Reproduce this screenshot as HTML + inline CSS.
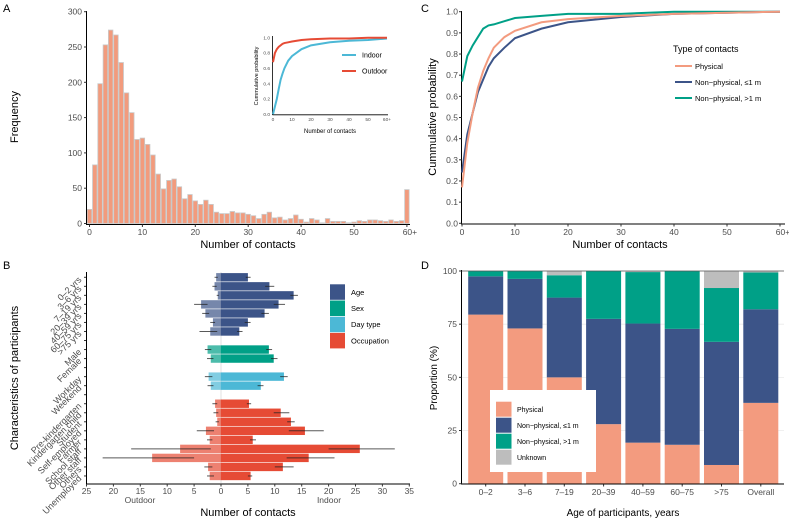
<!DOCTYPE html>
<html><head><meta charset="utf-8"><style>
html,body{margin:0;padding:0;background:#fff;}
svg{display:block;font-family:"Liberation Sans",Arial,sans-serif;}
</style></head><body>
<svg id="chart" width="789" height="519" viewBox="0 0 789 519" xmlns="http://www.w3.org/2000/svg">
<text x="3" y="12" font-size="11">A</text>
<text x="3" y="269" font-size="11">B</text>
<text x="421" y="12" font-size="11">C</text>
<text x="421" y="269" font-size="11">D</text>
</svg>
<script>
// ---------- Panel A data ----------
const histBins = [0,1,2,3,4,5,6,7,8,9,10,11,12,13,14,15,16,17,18,19,20,21,22,23,24,25,26,27,28,29,30,31,32,33,34,35,36,37,38,39,40,41,42,43,44,45,46,47,48,49,50,51,52,53,54,55,56,57,58,59,60];
const histFreq = [20,83,198,253,274,267,228,185,157,119,121,112,97,70,49,61,63,52,35,41,32,27,33,27,16,14,14,17,15,15,13,11,7,13,16,8,9,5,7,12,6,2,7,5,1,7,3,3,3,1,2,4,3,5,5,4,3,5,3,4,48];
const histYTicks = [0,50,100,150,200,250,300];
const histXTicks = [0,10,20,30,40,50,60];
const histXLabels = ["0","10","20","30","40","50","60+"];
const insetX = [0,1,2,3,4,5,6,8,10,15,20,30,40,50,60];
const insetIndoor = [0,0.1,0.2,0.33,0.45,0.53,0.6,0.7,0.76,0.85,0.9,0.94,0.96,0.97,0.99];
const insetOutdoor = [0.68,0.8,0.85,0.88,0.9,0.92,0.93,0.94,0.95,0.97,0.98,0.99,0.99,1,1];
const insetYTicks = [0,0.2,0.4,0.6,0.8,1.0];
// ---------- Panel C data ----------
const cdfX = [0,1,2,3,4,5,6,8,10,15,20,30,40,50,60];
const cdfPhysical = [0.17,0.38,0.52,0.64,0.72,0.78,0.83,0.88,0.91,0.95,0.965,0.98,0.99,0.995,1];
const cdfNear = [0.24,0.42,0.52,0.62,0.68,0.74,0.78,0.83,0.875,0.92,0.95,0.975,0.99,0.995,1];
const cdfFar = [0.67,0.79,0.84,0.88,0.92,0.935,0.94,0.955,0.97,0.98,0.99,0.99,1,1,1];
const cdfYTicks = [0,0.1,0.2,0.3,0.4,0.5,0.6,0.7,0.8,0.9,1.0];
// ---------- Panel B data ----------
const bLabels = ["0\u20132 yrs","3\u20136 yrs","7\u201319 yrs","20\u201339 yrs","40\u201359 yrs","60\u201375 yrs",">75 yrs","Male","Female","Workday","Weekend","Pre-kindergarten","Kindergarten child","Student","Self-employed","Farmer","School staff","Other staff","Others","Unemployed"];
const bSlots = [0,1,2,3,4,5,6,8,9,11,12,14,15,16,17,18,19,20,21,22];
const bGroup = [0,0,0,0,0,0,0,1,1,2,2,3,3,3,3,3,3,3,3,3];
const bIndoor = [5.0,9.0,13.5,10.7,8.1,5.0,3.4,8.9,9.8,11.7,7.4,5.2,11.1,13.0,15.6,5.9,25.8,16.3,11.5,5.5];
const bIndoorLo = [4.6,8.2,12.9,9.8,7.5,4.4,3.0,8.4,9.3,11.0,6.8,4.8,9.8,12.3,12.6,5.4,20.0,12.2,10.0,5.0];
const bIndoorHi = [5.5,9.9,14.3,11.9,8.9,5.5,4.0,9.5,10.5,12.4,7.9,5.6,12.7,13.7,19.1,6.5,32.3,21.1,13.5,5.8];
const bOutdoor = [0.9,1.2,0.6,3.7,2.9,1.5,2.0,2.5,1.9,2.3,1.9,1.1,0.9,0.7,2.8,2.1,7.6,12.8,2.4,2.1];
const bOutdoorLo = [0.6,0.8,0.4,2.5,2.2,1.1,0.7,1.8,1.4,1.6,1.4,0.7,0.5,0.4,1.3,1.6,1.9,5.0,1.6,1.3];
const bOutdoorHi = [1.2,1.6,0.8,5.0,3.5,2.0,4.0,3.0,2.6,3.0,2.5,1.6,1.4,1.0,4.5,2.6,16.7,22.0,3.1,2.6];
const bGroupNames = ["Age","Sex","Day type","Occupation"];
const bXTicks = [-25,-20,-15,-10,-5,0,5,10,15,20,25,30,35];
// ---------- Panel D data ----------
const dCats = ["0\u20132","3\u20136","7\u201319","20\u201339","40\u201359","60\u201375",">75","Overall"];
const dPhysical = [79.5,73,50,28,19.3,18.3,8.8,38];
const dNear = [18,23.3,37.5,49.5,56,54.5,57.9,44];
const dFar = [2.5,3.7,10.5,22.5,24.2,27.2,25.3,17.3];
const dUnknown = [0,0,2,0,0.5,0,8,0.7];
const dYTicks = [0,25,50,75,100];

const NS="http://www.w3.org/2000/svg";
const svg=document.getElementById('chart');
function el(tag,a,p){const e=document.createElementNS(NS,tag);for(const k in a)e.setAttribute(k,a[k]);(p||svg).appendChild(e);return e;}
function tx(x,y,s,a){const t=el('text',Object.assign({x:x,y:y},a||{}));t.textContent=s;return t;}
const TICK='#4d4d4d';

// ================= Panel A =================
const xA=v=>89.5+v*5.29, yA=v=>223.5-v*(211.8/300);
histFreq.forEach((f,i)=>{
  const r=el('rect',{x:xA(histBins[i]-0.5)+0.4,y:yA(f),width:5.29-0.8,height:yA(0)-yA(f),fill:'#f29b7d',stroke:'#c9c9c9','stroke-width':0.8});
  
  
});
let ln=el('line',{x1:86.5,y1:11,x2:86.5,y2:224.5,stroke:'#000','stroke-width':1});


ln=el('line',{x1:86,y1:224.5,x2:410,y2:224.5,stroke:'#000','stroke-width':1});


histYTicks.forEach(v=>{
  el('line',{x1:84,x2:86.5,y1:yA(v),y2:yA(v),stroke:'#333'});
  const t=tx(82,yA(v)+3,String(v),{'font-size':8.5,fill:TICK,'text-anchor':'end'});
  
  
});
histXTicks.forEach((v,i)=>{
  el('line',{x1:xA(v),x2:xA(v),y1:224.5,y2:227,stroke:'#333'});
  const t=tx(xA(v)+(i==6?3:0),235,histXLabels[i],{'font-size':8.5,fill:TICK,'text-anchor':'middle'});
  
  
});
let tt=tx(248,248,'Number of contacts',{'font-size':11,'text-anchor':'middle'});


tt=tx(0,0,'Frequency',{'font-size':11,'text-anchor':'middle',transform:'translate(18,117) rotate(-90)'});


// inset
const xI=v=>273+v*1.9, yI=p=>114.3-p*76.6;
el('rect',{x:262,y:33,width:130,height:100,fill:'#fff'});
ln=el('line',{x1:272.5,y1:36,x2:272.5,y2:115,stroke:'#000','stroke-width':0.8});


ln=el('line',{x1:272.5,y1:114.8,x2:388,y2:114.8,stroke:'#000','stroke-width':0.8});


insetYTicks.forEach(v=>{
  const t=tx(270,yI(v)+1.7,v.toFixed(1),{'font-size':4.8,fill:TICK,'text-anchor':'end'});
  
  
});
histXTicks.forEach((v,i)=>{
  const t=tx(xI(v),121,histXLabels[i],{'font-size':4.8,fill:TICK,'text-anchor':'middle'});
  
  
});
function pathOf(xs,ys,fx,fy){return xs.map((x,i)=>(i?'L':'M')+fx(x).toFixed(2)+','+fy(ys[i]).toFixed(2)).join(' ');}
let p=el('path',{d:pathOf(insetX,insetIndoor,xI,yI),fill:'none',stroke:'#4cb8d6','stroke-width':2});


p=el('path',{d:pathOf(insetX,insetOutdoor,xI,yI),fill:'none',stroke:'#e64b35','stroke-width':2});


tt=tx(330,133,'Number of contacts',{'font-size':6,'text-anchor':'middle'});


tt=tx(0,0,'Cummulative probability',{'font-size':5.5,'text-anchor':'middle',transform:'translate(258,76) rotate(-90)'});


[['Indoor','#4cb8d6',55],['Outdoor','#e64b35',71]].forEach(d=>{
  const l=el('line',{x1:342,x2:356,y1:d[2],y2:d[2],stroke:d[1],'stroke-width':2});
  
  
  const t=tx(362,d[2]+2.5,d[0],{'font-size':7});
  
  
});

// ================= Panel C =================
const xC=v=>462+v*5.3, yC=p=>223.3-p*211.6;
ln=el('line',{x1:461.5,y1:11,x2:461.5,y2:224,stroke:'#000','stroke-width':1});


ln=el('line',{x1:461,y1:224,x2:785,y2:224,stroke:'#000','stroke-width':1});


cdfYTicks.forEach(v=>{
  el('line',{x1:459,x2:461.5,y1:yC(v),y2:yC(v),stroke:'#333'});
  const t=tx(458,yC(v)+3,v.toFixed(1),{'font-size':8.5,fill:TICK,'text-anchor':'end'});
  
  
});
histXTicks.forEach((v,i)=>{
  el('line',{x1:xC(v),x2:xC(v),y1:224,y2:226.5,stroke:'#333'});
  const t=tx(xC(v)+(i==6?3:0),235,histXLabels[i],{'font-size':8.5,fill:TICK,'text-anchor':'middle'});
  
  
});
[[cdfFar,'#00a087','cdf-far-line'],[cdfNear,'#3c5488','cdf-near-line'],[cdfPhysical,'#f39b7f','cdf-physical-line']].forEach(s=>{
  const q=el('path',{d:pathOf(cdfX,s[0],xC,yC),fill:'none',stroke:s[1],'stroke-width':2});
  
  
});
tt=tx(620,248,'Number of contacts',{'font-size':11,'text-anchor':'middle'});


tt=tx(0,0,'Cummulative probability',{'font-size':11,'text-anchor':'middle',transform:'translate(436,117) rotate(-90)'});


tt=tx(673,52,'Type of contacts',{'font-size':9});


[['Physical','#f39b7f',66],['Non\u2212physical, \u22641 m','#3c5488',82],['Non\u2212physical, >1 m','#00a087',98]].forEach(d=>{
  const l=el('line',{x1:675,x2:692,y1:d[2],y2:d[2],stroke:d[1],'stroke-width':2});
  
  
  const t=tx(695,d[2]+3,d[0],{'font-size':7.5});
  
  
});

// ================= Panel B =================
const xB=v=>221+v*5.38, rowY=s=>277.3+s*9.03;
const gCol=['#3c5488','#00a087','#4cb8d6','#e64b35'];
ln=el('line',{x1:221,x2:221,y1:272,y2:483,stroke:'#e0e0e0','stroke-width':1});


bIndoor.forEach((v,i)=>{
  const y=rowY(bSlots[i]), c=gCol[bGroup[i]];
  const ro=el('rect',{x:xB(-bOutdoor[i]),y:y-4.2,width:xB(0)-xB(-bOutdoor[i]),height:8.4,fill:c,'fill-opacity':0.7});
  
  
  const ri=el('rect',{x:xB(0),y:y-4.2,width:xB(v)-xB(0),height:8.4,fill:c});
  
  
  const ei=el('line',{x1:xB(bIndoorLo[i]),x2:xB(bIndoorHi[i]),y1:y,y2:y,stroke:'#222','stroke-opacity':0.75,'stroke-width':1});
  
  
  const eo=el('line',{x1:xB(-bOutdoorLo[i]),x2:xB(-bOutdoorHi[i]),y1:y,y2:y,stroke:'#222','stroke-opacity':0.75,'stroke-width':1});
  
  
  const t=tx(0,0,bLabels[i],{'font-size':9,fill:TICK,'text-anchor':'end',transform:'translate(82,'+(y+3)+') rotate(-45)'});
  
  
});
for(let s=0;s<23;s++){el('line',{x1:84,x2:86.5,y1:rowY(s),y2:rowY(s),stroke:'#333'});}
ln=el('line',{x1:86.5,y1:272,x2:86.5,y2:484,stroke:'#000','stroke-width':1});


ln=el('line',{x1:86,y1:484,x2:410,y2:484,stroke:'#000','stroke-width':1});


bXTicks.forEach(v=>{
  el('line',{x1:xB(v),x2:xB(v),y1:484,y2:486.5,stroke:'#333'});
  const t=tx(xB(v),494,String(Math.abs(v)),{'font-size':8.5,fill:TICK,'text-anchor':'middle'});
  
  
});
tt=tx(140,503,'Outdoor',{'font-size':8.5,fill:TICK,'text-anchor':'middle'});


tt=tx(329,503,'Indoor',{'font-size':8.5,fill:TICK,'text-anchor':'middle'});


tt=tx(248,516,'Number of contacts',{'font-size':11,'text-anchor':'middle'});


tt=tx(0,0,'Characteristics of participants',{'font-size':11,'text-anchor':'middle',transform:'translate(18,378) rotate(-90)'});


bGroupNames.forEach((n,i)=>{
  const y=284.3+i*16.2;
  const r=el('rect',{x:330,y:y,width:15,height:15.5,fill:gCol[i]});
  
  
  const t=tx(351,y+10.5,n,{'font-size':7.5});
  
  
});

// ================= Panel D =================
const yD=p=>483.7-p*2.127, xD=i=>485.7+i*39.3;
dYTicks.forEach(v=>{
  const g=el('line',{x1:462,x2:784,y1:yD(v),y2:yD(v),stroke:'#ebebeb','stroke-width':0.8});
  
  
});
const dSeries=[[dPhysical,'#f39b7f','physical-segment'],[dNear,'#3c5488','near-segment'],[dFar,'#00a087','far-segment'],[dUnknown,'#bdbdbd','unknown-segment']];
dCats.forEach((c,i)=>{
  let base=0;
  dSeries.forEach(s=>{
    const v=s[0][i];
    if(v>0){
      const r=el('rect',{x:xD(i)-17.5,y:yD(base+v),width:35,height:yD(base)-yD(base+v),fill:s[1]});
      
      
    }
    base+=v;
  });
  el('line',{x1:xD(i),x2:xD(i),y1:484,y2:486.5,stroke:'#333'});
  const t=tx(xD(i),495,c,{'font-size':8.5,fill:TICK,'text-anchor':'middle'});
  
  
});
ln=el('line',{x1:462,y1:271,x2:784,y2:271,stroke:'#555','stroke-width':0.8});


ln=el('line',{x1:461.5,y1:270,x2:461.5,y2:484,stroke:'#000','stroke-width':1});


ln=el('line',{x1:461,y1:484,x2:784,y2:484,stroke:'#000','stroke-width':1});


dYTicks.forEach(v=>{
  el('line',{x1:459,x2:461.5,y1:yD(v),y2:yD(v),stroke:'#333'});
  const t=tx(457,yD(v)+3,String(v),{'font-size':8.5,fill:TICK,'text-anchor':'end'});
  
  
});
tt=tx(623,516,'Age of participants, years',{'font-size':10,'text-anchor':'middle'});


tt=tx(0,0,'Proportion (%)',{'font-size':10,'text-anchor':'middle',transform:'translate(437,378) rotate(-90)'});


const lb=el('rect',{x:490,y:390,width:106,height:82,fill:'#fff'});


[['Physical','#f39b7f'],['Non\u2212physical, \u22641 m','#3c5488'],['Non\u2212physical, >1 m','#00a087'],['Unknown','#bdbdbd']].forEach((d,i)=>{
  const y=401.7+i*16;
  const r=el('rect',{x:496,y:y,width:15.5,height:15,fill:d[1]});
  
  
  const t=tx(517,y+10.5,d[0],{'font-size':7});
  
  
});
</script>
</body></html>
